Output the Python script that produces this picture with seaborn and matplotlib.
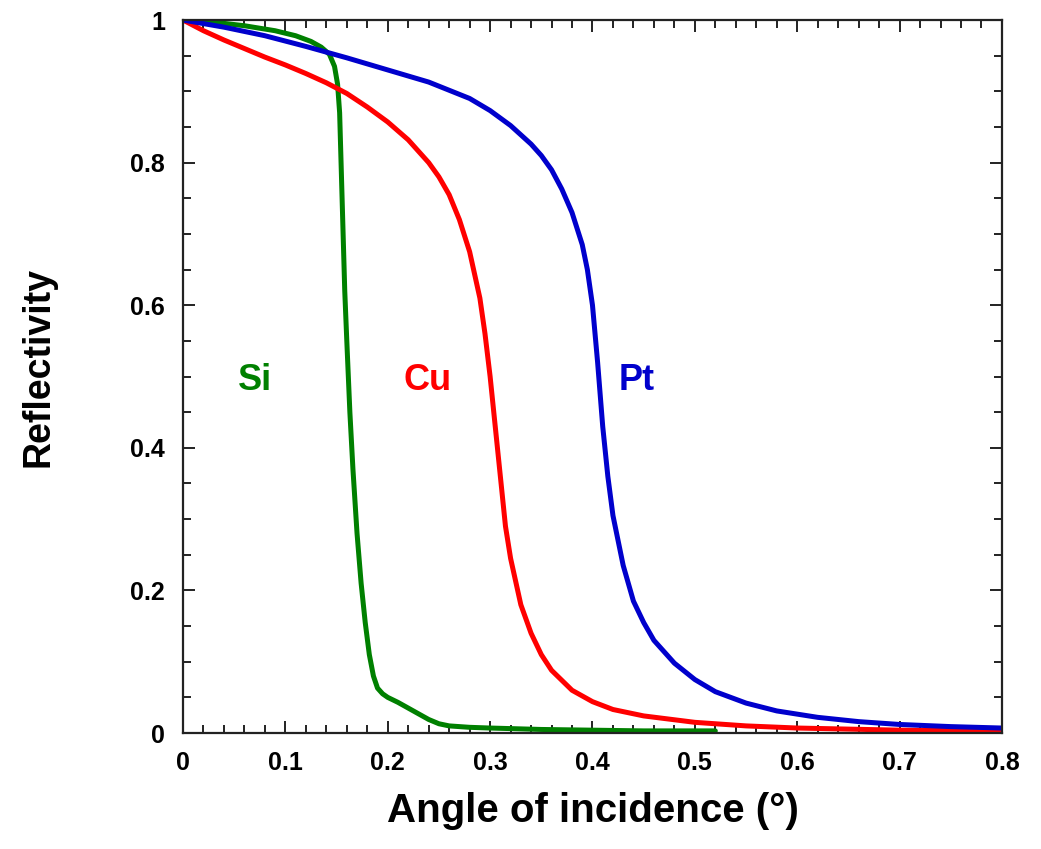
import numpy as np
import pandas as pd
import matplotlib
matplotlib.use("Agg")
import matplotlib.pyplot as plt
import seaborn as sns
from matplotlib.ticker import MultipleLocator

# ---- data ----
si_x = [0.0, 0.03, 0.06, 0.09, 0.11, 0.125, 0.135, 0.143, 0.148, 0.151, 0.153,
        0.154, 0.156, 0.158, 0.160, 0.163, 0.166, 0.170, 0.174, 0.178, 0.182,
        0.186, 0.19, 0.195, 0.2, 0.21, 0.22, 0.23, 0.24, 0.25, 0.26, 0.28, 0.3,
        0.35, 0.4, 0.45, 0.52]
si_y = [1.0, 0.997, 0.992, 0.985, 0.978, 0.97, 0.962, 0.952, 0.935, 0.91, 0.87,
        0.82, 0.72, 0.62, 0.55, 0.45, 0.37, 0.28, 0.21, 0.155, 0.11,
        0.08, 0.063, 0.055, 0.05, 0.043, 0.035, 0.027, 0.019, 0.013, 0.01, 0.008, 0.007,
        0.005, 0.004, 0.003, 0.003]

cu_x = [0.0, 0.02, 0.04, 0.06, 0.08, 0.10, 0.12, 0.14, 0.16, 0.18, 0.20, 0.22,
        0.24, 0.25, 0.26, 0.27, 0.28, 0.29, 0.295, 0.30, 0.305, 0.31, 0.315, 0.32,
        0.33, 0.34, 0.35, 0.36, 0.38, 0.40, 0.42, 0.45, 0.5, 0.55, 0.6, 0.7, 0.8]
cu_y = [1.0, 0.985, 0.972, 0.96, 0.948, 0.937, 0.925, 0.912, 0.897, 0.878, 0.857, 0.832,
        0.80, 0.78, 0.755, 0.72, 0.675, 0.61, 0.56, 0.50, 0.43, 0.36, 0.29, 0.245,
        0.18, 0.14, 0.11, 0.088, 0.06, 0.044, 0.033, 0.024, 0.015, 0.01, 0.007, 0.004, 0.003]

pt_x = [0.0, 0.04, 0.08, 0.12, 0.16, 0.20, 0.24, 0.28, 0.30, 0.32, 0.34, 0.35,
        0.36, 0.37, 0.38, 0.39, 0.395, 0.40, 0.405, 0.41, 0.415, 0.42, 0.43, 0.44,
        0.45, 0.46, 0.48, 0.50, 0.52, 0.55, 0.58, 0.62, 0.66, 0.7, 0.75, 0.8]
pt_y = [1.0, 0.99, 0.978, 0.963, 0.947, 0.93, 0.913, 0.89, 0.873, 0.852, 0.826, 0.81,
        0.79, 0.763, 0.73, 0.685, 0.65, 0.60, 0.52, 0.43, 0.36, 0.305, 0.235, 0.185,
        0.155, 0.13, 0.098, 0.075, 0.058, 0.042, 0.031, 0.022, 0.016, 0.012, 0.009, 0.007]

materials = ["Si", "Cu", "Pt"]
colors = ["#008000", "#ff0000", "#0000cc"]
label_x = [0.070, 0.239, 0.443]
label_y = [0.495, 0.495, 0.495]

x_ticks = [0, 0.1, 0.2, 0.3, 0.4, 0.5, 0.6, 0.7, 0.8]
x_tick_labels = ["0", "0.1", "0.2", "0.3", "0.4", "0.5", "0.6", "0.7", "0.8"]
y_ticks = [0, 0.2, 0.4, 0.6, 0.8, 1.0]
y_tick_labels = ["0", "0.2", "0.4", "0.6", "0.8", "1"]

df = pd.concat([
    pd.DataFrame({"angle": si_x, "R": si_y, "material": "Si"}),
    pd.DataFrame({"angle": cu_x, "R": cu_y, "material": "Cu"}),
    pd.DataFrame({"angle": pt_x, "R": pt_y, "material": "Pt"}),
], ignore_index=True)

sns.set_style("ticks")
plt.rcParams["font.family"] = ["Liberation Sans", "DejaVu Sans"]
plt.rcParams["text.color"] = "black"
plt.rcParams["axes.labelcolor"] = "black"
plt.rcParams["xtick.color"] = "black"
plt.rcParams["ytick.color"] = "black"

fig = plt.figure(figsize=(10.41, 8.49), dpi=100)
ax = fig.add_axes([0.1758, 0.1366, 0.7867, 0.8398])

sns.lineplot(data=df, x="angle", y="R", hue="material", hue_order=materials,
             palette=colors, sort=False, estimator=None, linewidth=3.6,
             legend=False, ax=ax)

ax.set_xlim(0, 0.8)
ax.set_ylim(0, 1)
ax.set_xticks(x_ticks)
ax.set_xticklabels(x_tick_labels)
ax.set_yticks(y_ticks)
ax.set_yticklabels(y_tick_labels)
ax.xaxis.set_minor_locator(MultipleLocator(0.02))
ax.yaxis.set_minor_locator(MultipleLocator(0.05))

ax.tick_params(which="both", direction="in", top=True, right=True,
               width=1.4, color="#222222")
ax.tick_params(which="major", length=8.6, labelsize=18, pad=13)
ax.tick_params(which="minor", length=5.5)
for lbl in ax.get_xticklabels() + ax.get_yticklabels():
    lbl.set_fontweight("bold")

for s in ax.spines.values():
    s.set_linewidth(1.6)
    s.set_color("#222222")

ax.set_xlabel("Angle of incidence (°)", fontsize=29, fontweight="bold")
ax.set_ylabel("Reflectivity", fontsize=27, fontweight="bold")
ax.xaxis.set_label_coords(0.5, -0.083)
ax.yaxis.set_label_coords(-0.155, 0.513)

for name, c, lx, ly in zip(materials, colors, label_x, label_y):
    ax.text(lx, ly, name, color=c, fontsize=26, fontweight="bold",
            ha="center", va="center")

fig.savefig("out.png", dpi=100)
